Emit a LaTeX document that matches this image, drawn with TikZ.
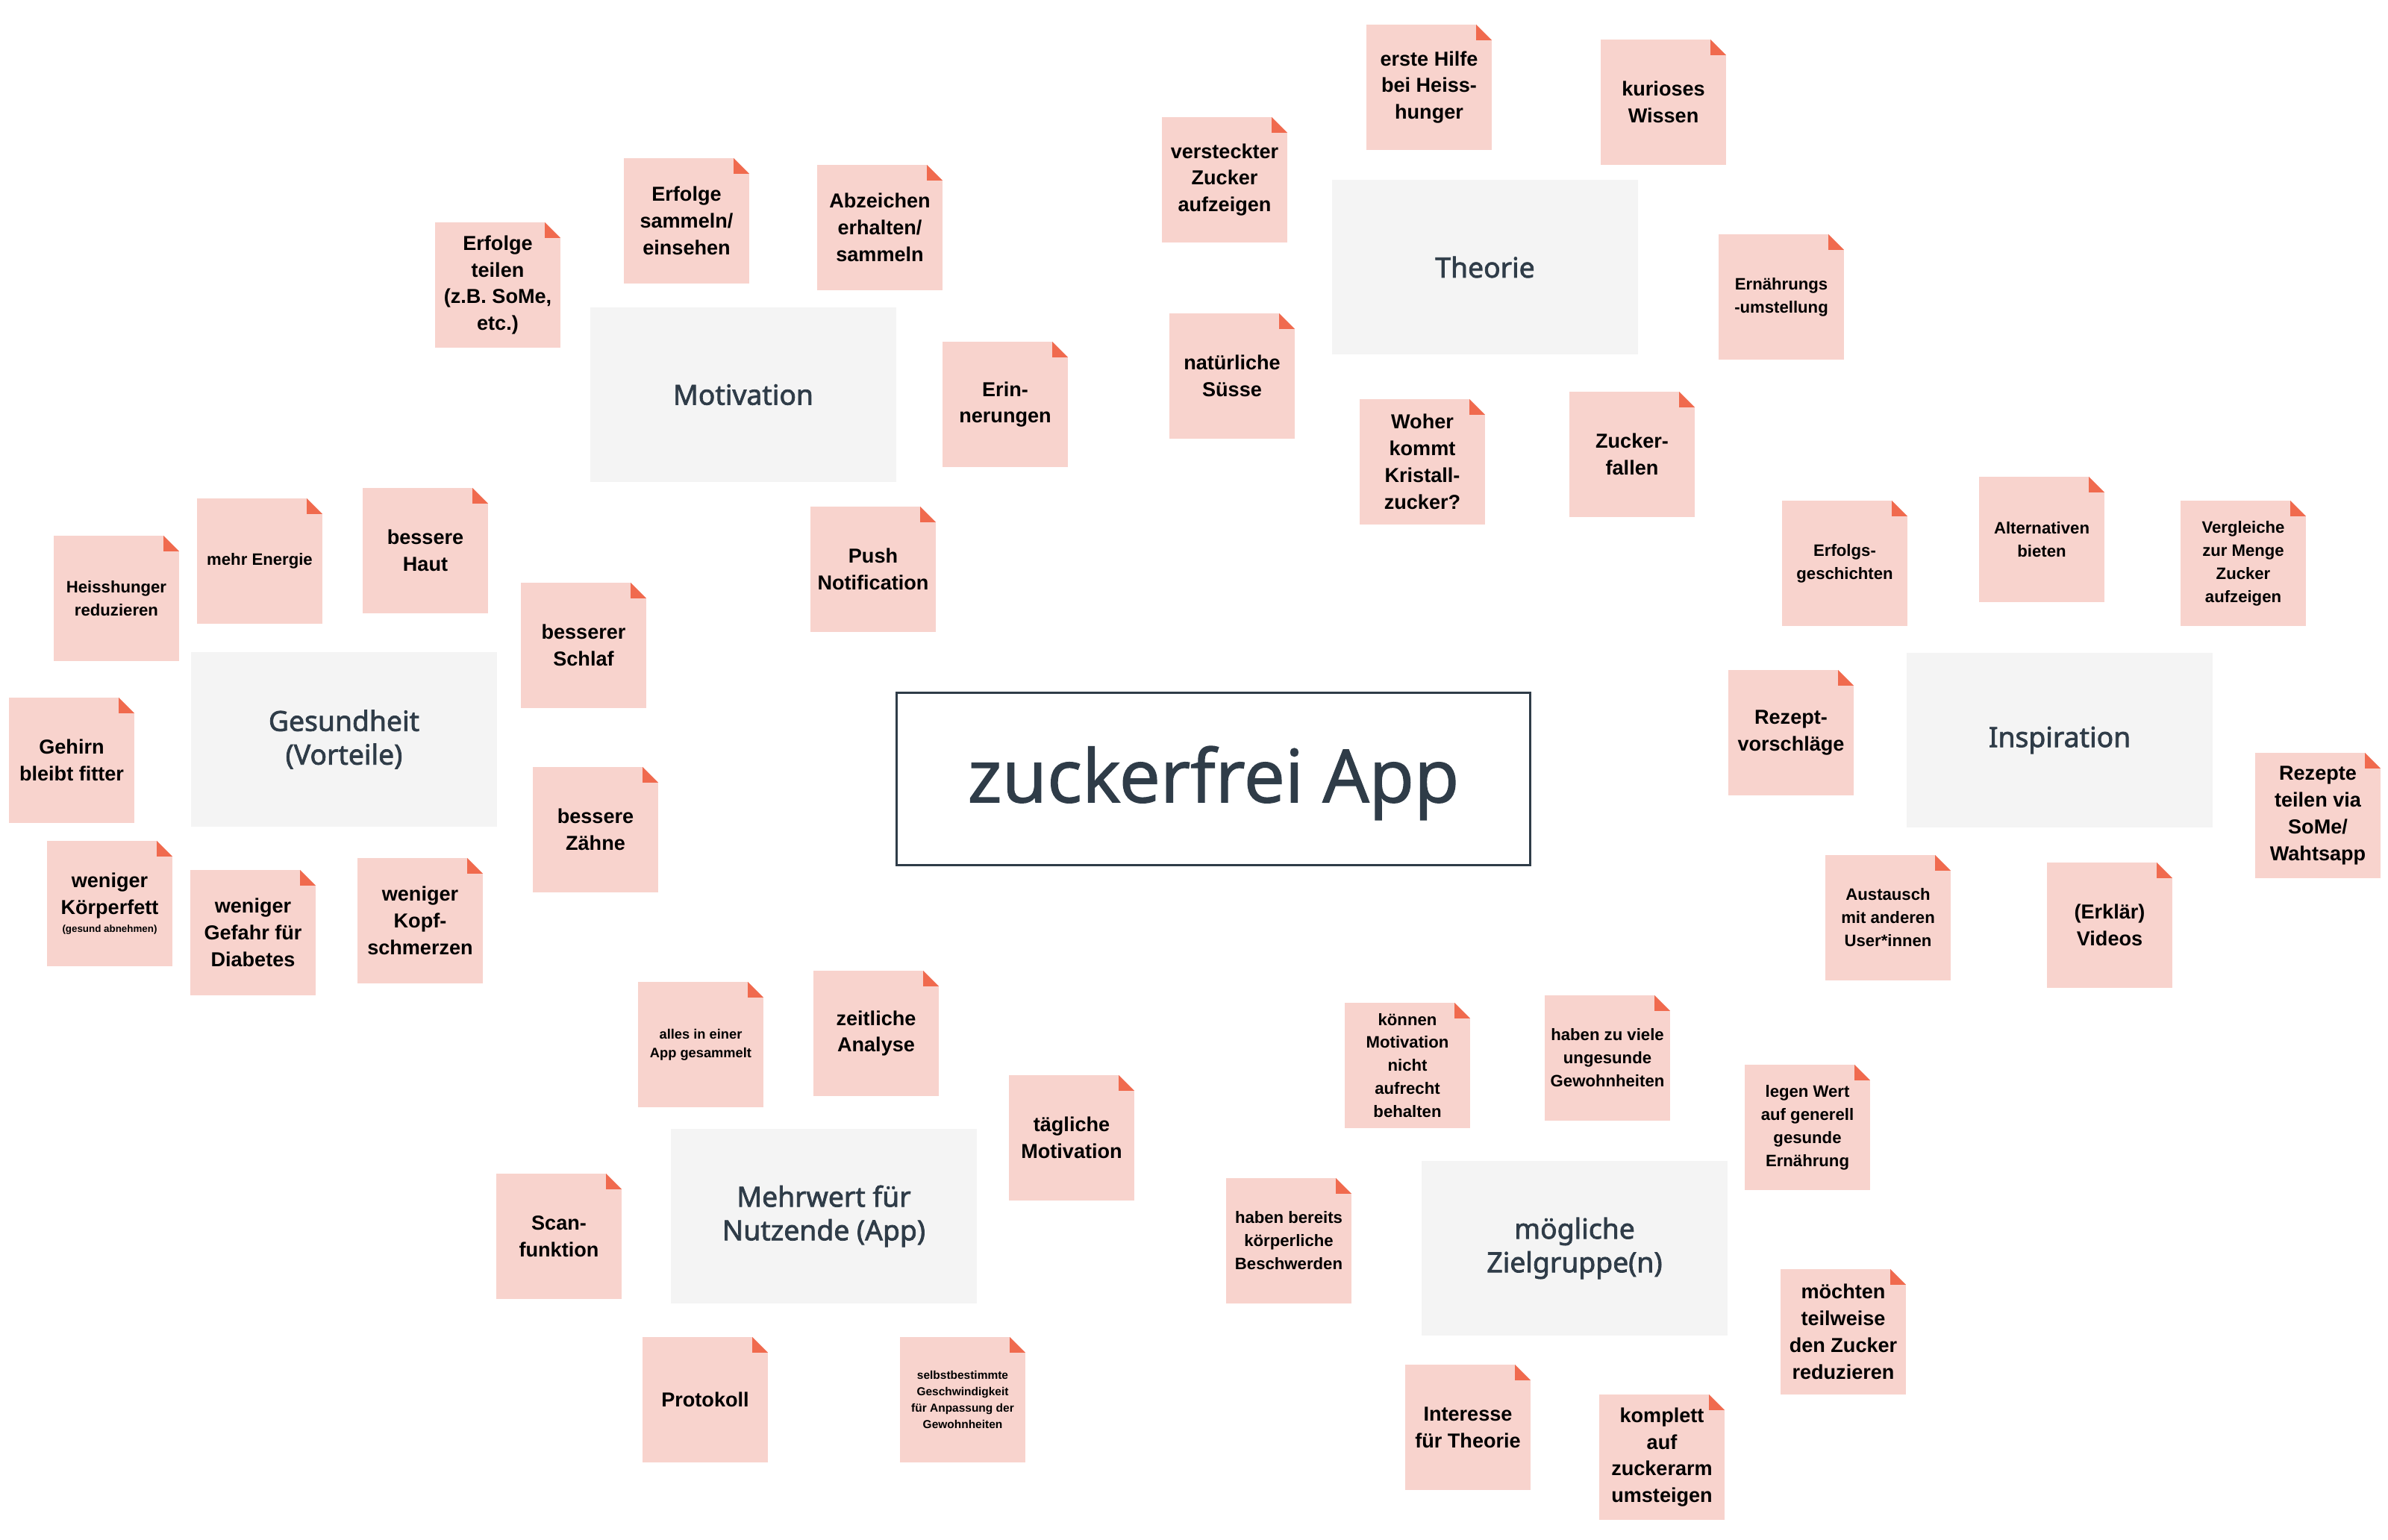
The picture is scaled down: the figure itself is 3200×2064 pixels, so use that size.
\documentclass[tikz,border=0pt]{standalone}
\usepackage{fontspec}
\setmainfont{Liberation Sans}
\newfontfamily\topicfont{Noto Sans}[FakeBold=2]
\newfontfamily\appfont{Open Sans}[FakeBold=1.4]
\definecolor{notepink}{HTML}{F8D3CD}
\definecolor{foldred}{HTML}{F06A4E}
\definecolor{topicgray}{HTML}{F4F4F4}
\definecolor{slate}{HTML}{2F3C48}

\begin{document}
\begin{tikzpicture}[x=0.01cm, y=-0.01cm,
	note/.style={
		rectangle, fill=notepink, minimum width=1.68cm, minimum height=1.68cm,
		inner sep=2pt, align=center, font=\bfseries\fontsize{7.7}{10.2}\selectfont,
		path picture={
			\fill[white] ([xshift=-\fold]path picture bounding box.north east)
				-- (path picture bounding box.north east)
				-- ([yshift=-\fold]path picture bounding box.north east) -- cycle;
			\fill[foldred] ([xshift=-\fold]path picture bounding box.north east)
				-- ([xshift=-\fold, yshift=-\fold]path picture bounding box.north east)
				-- ([yshift=-\fold]path picture bounding box.north east) -- cycle;
		}
	},
	mid/.style={note, font=\bfseries\fontsize{6.3}{8.8}\selectfont},
	small/.style={note, font=\bfseries\fontsize{5.2}{7.1}\selectfont},
	tiny/.style={note, font=\bfseries\fontsize{4.4}{6.3}\selectfont},
	topic/.style={
		rectangle, fill=topicgray, minimum width=4.09cm, minimum height=2.34cm,
		align=center, text=slate, font=\topicfont\fontsize{10.6}{12.8}\selectfont
	},
	app/.style={
		rectangle, draw=slate, line width=0.85pt, fill=white,
		minimum width=8.49cm, minimum height=2.31cm,
		text height=24.5pt, text depth=6.7pt,
		text=slate, font=\appfont\fontsize{28}{33}\selectfont
	},
	]
	\def\fold{0.21cm}
	\useasboundingbox (0,0) rectangle (3200,2064);

	\node[app] (app) at (1626,1044) {zuckerfrei App};

	\node[topic] (motivation) at (996,529) {Motivation};
	\node[note] (erfteilen)  at (667,382) {Erfolge\\teilen\\(z.B. SoMe,\\etc.)};
	\node[note] (erfsammeln) at (920,296) {Erfolge\\sammeln/\\einsehen};
	\node[note] (abzeichen)  at (1179,305) {Abzeichen\\erhalten/\\sammeln};
	\node[note] (erinnerung) at (1347,542) {Erin-\\nerungen};
	\node[note] (push)       at (1170,763) {Push\\Notification};

	\node[topic] (theorie) at (1990,358) {Theorie};
	\node[note] (hilfe)      at (1915,117) {erste Hilfe\\bei Heiss-\\hunger};
	\node[note] (wissen)     at (2229,137) {kurioses\\Wissen};
	\node[note] (versteckt)  at (1641,241) {versteckter\\Zucker\\aufzeigen};
	\node[mid]  (umstellung) at (2387,398) {Ernährungs\\-umstellung};
	\node[note] (suesse)     at (1651,504) {natürliche\\Süsse};
	\node[note] (kristall)   at (1906,619) {Woher\\kommt\\Kristall-\\zucker?};
	\node[note] (fallen)     at (2187,609) {Zucker-\\fallen};

	\node[topic] (gesundheit) at (461,991) {Gesundheit\\(Vorteile)};
	\node[mid]  (heiss)    at (156,802) {Heisshunger\\reduzieren};
	\node[mid]  (energie)  at (348,752) {mehr Energie};
	\node[note] (haut)     at (570,738) {bessere\\Haut};
	\node[note] (schlaf)   at (782,865) {besserer\\Schlaf};
	\node[note] (gehirn)   at (96,1019) {Gehirn\\bleibt fitter};
	\node[note] (zaehne)   at (798,1112) {bessere\\Zähne};
	\node[note] (fett)     at (147,1211) {weniger\\Körperfett\\[-3.4pt]{\fontsize{3.8}{5}\selectfont(gesund abnehmen)}};
	\node[note] (diabetes) at (339,1250) {weniger\\Gefahr für\\Diabetes};
	\node[note] (kopf)     at (563,1234) {weniger\\Kopf-\\schmerzen};

	\node[topic] (inspiration) at (2760,992) {Inspiration};
	\node[mid]  (geschichten)  at (2472,755) {Erfolgs-\\geschichten};
	\node[mid]  (alternativen) at (2736,723) {Alternativen\\bieten};
	\node[mid]  (vergleiche)   at (3006,755) {Vergleiche\\zur Menge\\Zucker\\aufzeigen};
	\node[note] (rezeptvor)    at (2400,982) {Rezept-\\vorschläge};
	\node[note] (rezeptteilen) at (3106,1093) {Rezepte\\teilen via\\SoMe/\\Wahtsapp};
	\node[mid]  (austausch)    at (2530,1230) {Austausch\\mit anderen\\User*innen};
	\node[note] (videos)       at (2827,1240) {(Erklär)\\Videos};

	\node[topic] (mehrwert) at (1104,1630) {Mehrwert für\\Nutzende (App)};
	\node[small] (alles)     at (939,1400) {alles in einer\\App gesammelt};
	\node[note]  (analyse)   at (1174,1385) {zeitliche\\Analyse};
	\node[note]  (taeglich)  at (1436,1525) {tägliche\\Motivation};
	\node[note]  (scan)      at (749,1657) {Scan-\\funktion};
	\node[note]  (protokoll) at (945,1876) {Protokoll};
	\node[tiny]  (tempo)     at (1290,1876) {selbstbestimmte\\Geschwindigkeit\\für Anpassung der\\Gewohnheiten};

	\node[topic] (zielgruppe) at (2110,1673) {mögliche\\Zielgruppe(n)};
	\node[mid]  (motlos)       at (1886,1428) {können\\Motivation\\nicht\\aufrecht\\behalten};
	\node[mid]  (gewohnheiten) at (2154,1418) {haben zu viele\\ungesunde\\Gewohnheiten};
	\node[mid]  (wert)         at (2422,1511) {legen Wert\\auf generell\\gesunde\\Ernährung};
	\node[mid]  (beschwerden)  at (1727,1663) {haben bereits\\körperliche\\Beschwerden};
	\node[note] (reduzieren)   at (2470,1785) {möchten\\teilweise\\den Zucker\\reduzieren};
	\node[note] (interesse)    at (1967,1913) {Interesse\\für Theorie};
	\node[note] (komplett)     at (2227,1953) {komplett\\auf\\zuckerarm\\umsteigen};
\end{tikzpicture}
\end{document}
